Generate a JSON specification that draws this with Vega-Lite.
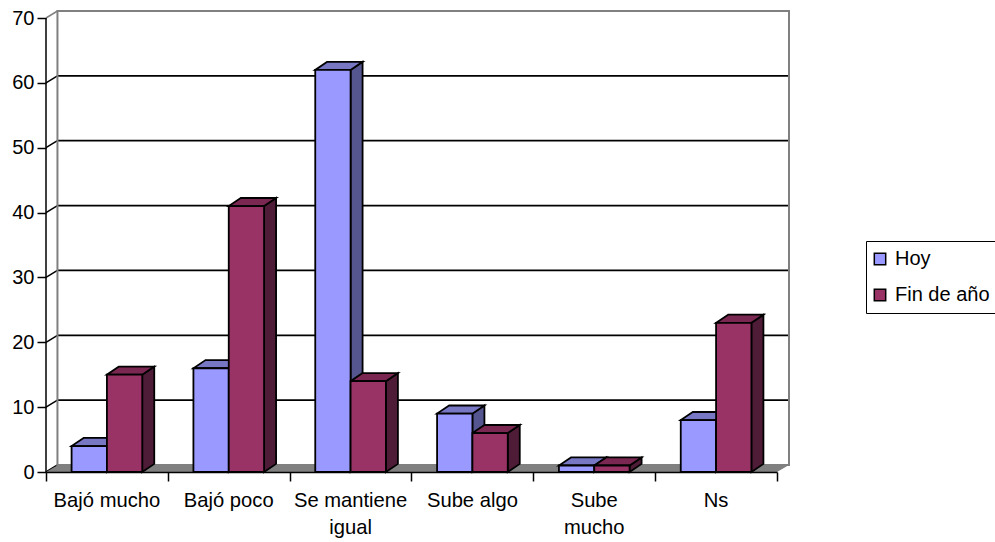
{
"$schema":"https://vega.github.io/schema/vega-lite/v6.json",
"width":743,"height":461,
"autosize":{"type":"none"},
"padding":{"left":46,"top":11,"right":206,"bottom":70},
"background":"white",
"view":{"stroke":null},
"config":{"font":"Liberation Sans","axisY":{"grid":false,"domain":false,"tickCount":8,"tickSize":9,"tickColor":"black","tickWidth":1.5,"labelFontSize":20,"labelColor":"black","labelPadding":3,"labelFont":"Liberation Sans"}},
"datasets":{
"bars":[
{"category":"Bajó mucho","series":"Hoy","value":4},
{"category":"Bajó mucho","series":"Fin de año","value":15},
{"category":"Bajó poco","series":"Hoy","value":16},
{"category":"Bajó poco","series":"Fin de año","value":41},
{"category":"Se mantiene igual","series":"Hoy","value":62},
{"category":"Se mantiene igual","series":"Fin de año","value":14},
{"category":"Sube algo","series":"Hoy","value":9},
{"category":"Sube algo","series":"Fin de año","value":6},
{"category":"Sube mucho","series":"Hoy","value":1},
{"category":"Sube mucho","series":"Fin de año","value":1},
{"category":"Ns","series":"Hoy","value":8},
{"category":"Ns","series":"Fin de año","value":23}
],
"levels":[{"level":0},{"level":10},{"level":20},{"level":30},{"level":40},{"level":50},{"level":60},{"level":70}],
"edge":[{"t":0},{"t":1}]
},
"layer":[
{"data":{"name":"levels"},
 "transform":[{"filter":"datum.level>0 && datum.level<70"},{"calculate":"datum.level+1.08","as":"back"}],
 "mark":{"type":"rule","color":"black","strokeWidth":1.8},
 "encoding":{
  "x":{"datum":0.094,"type":"quantitative","scale":{"domain":[0,6.0985],"nice":false,"zero":false},
   "axis":{"orient":"bottom","values":[0,1,2,3,4,5,6],"title":null,"grid":false,"domain":false,"labels":false,"tickSize":9,"tickColor":"black","tickWidth":1.5}},
  "x2":{"datum":6.0985},
  "y":{"field":"back","type":"quantitative","title":null,"scale":{"domain":[0,71.08],"nice":false}}
 }},
{"data":{"name":"levels"},
 "transform":[{"calculate":"datum.level+1.08","as":"back"}],
 "mark":{"type":"rule","strokeWidth":1.5},
 "encoding":{
  "x":{"datum":0,"type":"quantitative","scale":{"domain":[0,6.0985],"nice":false,"zero":false},"axis":null},
  "x2":{"datum":0.094},
  "y":{"field":"level","type":"quantitative","title":null},
  "y2":{"field":"back"},
  "color":{"condition":{"test":"datum.level==70","value":"#808080"},"value":"black"}
 }},
{"data":{"name":"edge"},
 "transform":[{"calculate":"datum.t*0.0985","as":"xa"},{"calculate":"6+datum.t*0.0985","as":"xb"},{"calculate":"datum.t*1.08","as":"ya"}],
 "mark":{"type":"area","orient":"horizontal","color":"#808080"},
 "encoding":{
  "x":{"field":"xa","type":"quantitative","scale":{"domain":[0,6.0985],"nice":false,"zero":false},"axis":null,"stack":null},
  "x2":{"field":"xb"},
  "y":{"field":"ya","type":"quantitative","title":null}
 }},
{"data":{"values":[{"part":"wall"}]},
 "mark":{"type":"rect","fillOpacity":0,"stroke":"#808080","strokeWidth":2},
 "encoding":{
  "x":{"datum":0.094,"type":"quantitative","scale":{"domain":[0,6.0985],"nice":false,"zero":false},"axis":null},
  "x2":{"datum":6.0985},
  "y":{"datum":1.08,"type":"quantitative","title":null},
  "y2":{"datum":71.08}
 }},
{"data":{"values":[{"part":"axis"}]},
 "mark":{"type":"rule","color":"black","strokeWidth":1.5},
 "encoding":{
  "x":{"datum":0,"type":"quantitative","scale":{"domain":[0,6.0985],"nice":false,"zero":false},"axis":null},
  "y":{"datum":0,"type":"quantitative","title":null},
  "y2":{"datum":70}
 }},
{"data":{"name":"bars"},
 "transform":[
  {"calculate":"indexof(['Bajó mucho','Bajó poco','Se mantiene igual','Sube algo','Sube mucho','Ns'],datum.category)+0.21+(datum.series=='Hoy'?0:0.29)","as":"xl"},
  {"calculate":"datum.xl+0.29","as":"xr"},
  {"calculate":"[0,1]","as":"t"},
  {"flatten":["t"]},
  {"calculate":"datum.xl+datum.t*0.0985","as":"tx1"},
  {"calculate":"datum.xr+datum.t*0.0985","as":"tx2"},
  {"calculate":"datum.value+datum.t*1.25","as":"upper"},
  {"calculate":"datum.t*1.25","as":"lower"}
 ],
 "layer":[
  {"transform":[{"filter":"datum.series=='Hoy'"}],
   "mark":{"type":"area","color":"#55558F","stroke":"black","strokeWidth":1.8},
   "encoding":{"x":{"field":"tx2","type":"quantitative","scale":{"domain":[0,6.0985],"nice":false,"zero":false},"axis":null},
    "y":{"field":"upper","type":"quantitative","title":null,"stack":null},"y2":{"field":"lower"},"detail":{"field":"category"}}},
  {"transform":[{"filter":"datum.series=='Hoy'"}],
   "mark":{"type":"area","orient":"horizontal","color":"#7777C4","stroke":"black","strokeWidth":1.8},
   "encoding":{"x":{"field":"tx1","type":"quantitative","scale":{"domain":[0,6.0985],"nice":false,"zero":false},"axis":null,"stack":null},
    "x2":{"field":"tx2"},"y":{"field":"upper","type":"quantitative","title":null},"detail":{"field":"category"}}},
  {"transform":[{"filter":"datum.series=='Fin de año'"}],
   "mark":{"type":"area","color":"#4F1C38","stroke":"black","strokeWidth":1.8},
   "encoding":{"x":{"field":"tx2","type":"quantitative","scale":{"domain":[0,6.0985],"nice":false,"zero":false},"axis":null},
    "y":{"field":"upper","type":"quantitative","title":null,"stack":null},"y2":{"field":"lower"},"detail":{"field":"category"}}},
  {"transform":[{"filter":"datum.series=='Fin de año'"}],
   "mark":{"type":"area","orient":"horizontal","color":"#7A2852","stroke":"black","strokeWidth":1.8},
   "encoding":{"x":{"field":"tx1","type":"quantitative","scale":{"domain":[0,6.0985],"nice":false,"zero":false},"axis":null,"stack":null},
    "x2":{"field":"tx2"},"y":{"field":"upper","type":"quantitative","title":null},"detail":{"field":"category"}}}
 ]},
{"data":{"name":"bars"},
 "mark":{"type":"bar","stroke":"black","strokeWidth":1.8},
 "encoding":{
  "x":{"field":"category","type":"nominal","sort":null,
   "scale":{"range":[0,731],"paddingInner":0.42,"paddingOuter":0.21},
   "axis":{"orient":"bottom","title":null,"zindex":1,"labelAngle":0,"ticks":false,"domainColor":"black","domainWidth":1.5,"labelFontSize":20.2,"labelColor":"black","labelPadding":18,"labelFont":"Liberation Sans","labelBaseline":"top","labelLineHeight":27,"labelExpr":"datum.label=='Se mantiene igual'?['Se mantiene','igual']:datum.label=='Sube mucho'?['Sube','mucho']:datum.label"}},
  "xOffset":{"field":"series","type":"nominal","sort":null,"scale":{"domain":["Hoy","Fin de año"]}},
  "y":{"field":"value","type":"quantitative","title":null,"stack":null},
  "fill":{"field":"series","type":"nominal","sort":null,
   "scale":{"domain":["Hoy","Fin de año"],"range":["#9999FF","#993366"]},
   "legend":{"title":null,"orient":"none","legendX":820,"legendY":230,"strokeColor":"black","fillColor":"white","padding":8,"symbolType":"square","symbolSize":130,"symbolOffset":-4,"symbolStrokeColor":"black","symbolStrokeWidth":1.5,"labelFontSize":20,"labelColor":"black","labelOffset":5,"rowPadding":16,"labelFont":"Liberation Sans"}}
 }}
],
"resolve":{"scale":{"x":"independent"}}
}
